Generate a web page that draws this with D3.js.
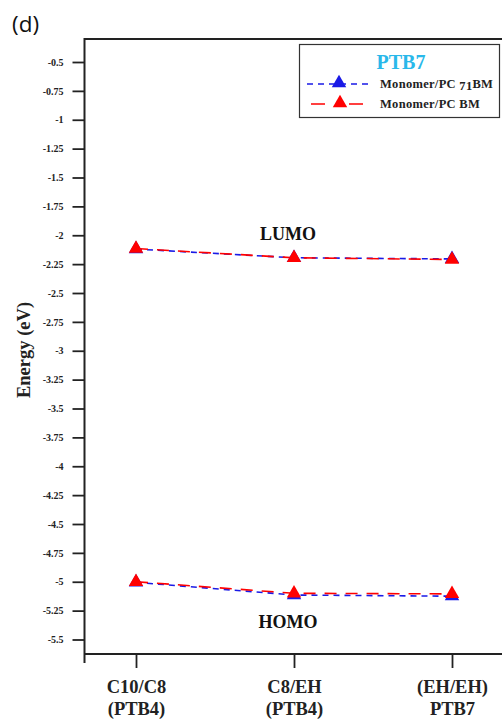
<!DOCTYPE html>
<html><head><meta charset="utf-8">
<script src="https://cdn.jsdelivr.net/npm/d3@7"></script>
<style>html,body{margin:0;padding:0;background:#fff;}svg{display:block;}</style>
</head><body>
<script>
// ---- data ----
const categories = [["C10/C8","(PTB4)"],["C8/EH","(PTB4)"],["(EH/EH)","PTB7"]];
const catIndex = [1,2,3];
const lumoPC71BM = [-2.12, -2.195, -2.205];
const lumoPCBM   = [-2.115, -2.195, -2.21];
const homoPC71BM = [-5.005, -5.115, -5.125];
const homoPCBM   = [-5.0, -5.1, -5.105];
const yTicks = [-0.5,-0.75,-1,-1.25,-1.5,-1.75,-2,-2.25,-2.5,-2.75,-3,-3.25,-3.5,-3.75,-4,-4.25,-4.5,-4.75,-5,-5.25,-5.5];
const legendTitle = "PTB7";
const seriesNames = ["Monomer/PC71BM","Monomer/PCBM"];

(function(){
const W=502,H=721;
const svg=d3.select("body").append("svg").attr("width",W).attr("height",H);
const serif="'Liberation Serif','Times New Roman',serif";

const pLeft=84.5, pTop=39, pBottom=654, pRight=502;
const x=d3.scaleLinear().domain([1,3]).range([136,452]);
const y=d3.scaleLinear().domain([-5.5,-0.5]).range([639.5,62]);

// frame lines
svg.append("line").attr("x1",pLeft).attr("x2",pRight).attr("y1",pTop).attr("y2",pTop).attr("stroke","#222").attr("stroke-width",2);
svg.append("line").attr("x1",pLeft).attr("x2",pLeft).attr("y1",pTop-1).attr("y2",663).attr("stroke","#222").attr("stroke-width",2);
svg.append("line").attr("x1",pLeft).attr("x2",pRight).attr("y1",pBottom).attr("y2",pBottom).attr("stroke","#222").attr("stroke-width",2);

// y axis
const yAxis=d3.axisLeft(y).tickValues(yTicks).tickSize(12).tickPadding(9).tickFormat(d=>String(d));
const gy=svg.append("g").attr("transform",`translate(${pLeft},0)`).call(yAxis);
gy.select(".domain").remove();
gy.selectAll(".tick line").attr("stroke","#222").attr("stroke-width",1.8);
gy.selectAll(".tick text").attr("font-family",serif).attr("font-weight","bold").attr("font-size","10px").attr("fill","#222");

// x axis
const xAxis=d3.axisBottom(x).tickValues(catIndex).tickSize(14).tickFormat("");
const gx=svg.append("g").attr("transform",`translate(0,${pBottom})`).call(xAxis);
gx.select(".domain").remove();
gx.selectAll(".tick line").attr("stroke","#222").attr("stroke-width",1.8);
gx.selectAll(".tick").each(function(d,i){
  const t=d3.select(this).append("text").attr("text-anchor","middle")
    .attr("font-family",serif).attr("font-weight","bold").attr("font-size","18.5px").attr("fill","#222");
  t.append("tspan").attr("x",0).attr("y",39).text(categories[i][0]);
  t.append("tspan").attr("x",0).attr("y",61).text(categories[i][1]);
});

// y label
svg.append("text").attr("transform","translate(30,350) rotate(-90)").attr("text-anchor","middle")
  .attr("font-family",serif).attr("font-weight","bold").attr("font-size","18.5px").attr("fill","#222").text("Energy (eV)");

// (d)
svg.append("text").attr("x",12).attr("y",32).attr("font-family","'Open Sans',sans-serif").attr("font-size","22.5px").attr("fill","#111").text("(d)");

const blue="#1a1ae6", red="#ff0000";
const tri=d3.symbol().type(d3.symbolTriangle).size(90);
const line=d3.line().x((d,i)=>x(catIndex[i])).y(d=>y(d));

function drawLine(vals,color,dash){
  svg.append("path").datum(vals).attr("d",line).attr("fill","none").attr("stroke",color).attr("stroke-width",1.6).attr("stroke-dasharray",dash);
}
function drawPts(vals,color){
  svg.selectAll(null).data(vals).enter().append("path").attr("d",tri)
    .attr("transform",(d,i)=>`translate(${x(catIndex[i])},${y(d)})`).attr("fill",color);
}
drawLine(lumoPC71BM,blue,"6,5");
drawLine(homoPC71BM,blue,"6,5");
drawLine(lumoPCBM,red,"12,9");
drawLine(homoPCBM,red,"12,9");
drawPts(lumoPC71BM,blue);drawPts(homoPC71BM,blue);
drawPts(lumoPCBM,red);drawPts(homoPCBM,red);

// labels LUMO / HOMO
svg.append("text").attr("x",288).attr("y",240).attr("text-anchor","middle").attr("font-family",serif).attr("font-weight","bold").attr("font-size","18px").attr("fill","#111").text("LUMO");
svg.append("text").attr("x",288).attr("y",628).attr("text-anchor","middle").attr("font-family",serif).attr("font-weight","bold").attr("font-size","18px").attr("fill","#111").text("HOMO");

// legend
const lg=svg.append("g");
lg.append("rect").attr("x",299.5).attr("y",44.5).attr("width",200).attr("height",73).attr("fill","#fff").attr("stroke","#333").attr("stroke-width",1.2);
lg.append("text").attr("x",401).attr("y",69).attr("text-anchor","middle").attr("font-family",serif).attr("font-weight","bold").attr("font-size","20px").attr("fill","#29b8ea").text(legendTitle);
lg.append("line").attr("x1",307).attr("x2",371).attr("y1",84).attr("y2",84).attr("stroke",blue).attr("stroke-width",1.6).attr("stroke-dasharray","6,5");
lg.append("path").attr("d",tri).attr("transform","translate(339,83)").attr("fill",blue);
lg.append("line").attr("x1",311).attr("x2",367).attr("y1",104).attr("y2",104).attr("stroke",red).attr("stroke-width",1.6).attr("stroke-dasharray","14,24");
lg.append("path").attr("d",tri).attr("transform","translate(340,103)").attr("fill",red);
const t1=lg.append("text").attr("x",380).attr("y",88).attr("font-family",serif).attr("font-weight","bold").attr("font-size","12.5px").attr("letter-spacing","0.3px").attr("fill","#222");
t1.append("tspan").text("Monomer/PC ");
t1.append("tspan").attr("dy",2).text("71");
t1.append("tspan").attr("dy",-2).text("BM");
lg.append("text").attr("x",380).attr("y",108).attr("font-family",serif).attr("font-weight","bold").attr("font-size","12.5px").attr("letter-spacing","0.3px").attr("fill","#222").text(seriesNames[1].replace("PCBM","PC BM"));
})();
</script>
</body></html>
